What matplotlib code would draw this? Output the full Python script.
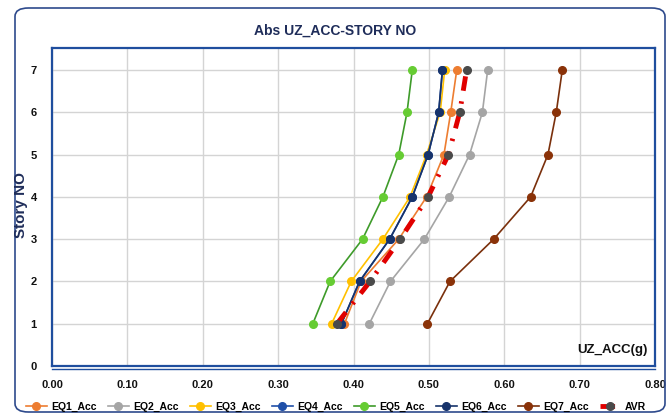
import matplotlib
matplotlib.use("Agg")
import matplotlib.pyplot as plt
from matplotlib.patches import FancyBboxPatch
from matplotlib.lines import Line2D

# --- DATA ---
stories = [1, 2, 3, 4, 5, 6, 7]
eq1 = [0.388, 0.410, 0.460, 0.497, 0.520, 0.529, 0.537]
eq2 = [0.421, 0.449, 0.494, 0.527, 0.554, 0.571, 0.578]
eq3 = [0.371, 0.397, 0.439, 0.475, 0.497, 0.515, 0.521]
eq4 = [0.384, 0.408, 0.448, 0.478, 0.499, 0.513, 0.518]
eq5 = [0.346, 0.369, 0.412, 0.439, 0.460, 0.471, 0.478]
eq6 = [0.384, 0.408, 0.448, 0.478, 0.499, 0.513, 0.518]
eq7 = [0.498, 0.528, 0.586, 0.635, 0.658, 0.669, 0.677]
avr = [0.378, 0.422, 0.462, 0.499, 0.526, 0.541, 0.550]

series_names = ["EQ1_Acc", "EQ2_Acc", "EQ3_Acc", "EQ4_Acc", "EQ5_Acc", "EQ6_Acc", "EQ7_Acc"]
x_ticks = [0.0, 0.1, 0.2, 0.3, 0.4, 0.5, 0.6, 0.7, 0.8]
y_ticks = [0, 1, 2, 3, 4, 5, 6, 7]

# line colour, marker colour
STYLES = [
    ("#ED7D31", "#ED7D31"),
    ("#A5A5A5", "#A5A5A5"),
    ("#FFC000", "#FFC000"),
    ("#1F4FA8", "#1F4FA8"),
    ("#3E9B2A", "#66CC33"),
    ("#17336B", "#17336B"),
    ("#7A300C", "#8A3208"),
]
NAVY = "#1F2D5A"
FRAME = "#1F4E9E"
FONT = "Liberation Sans"

plt.rcParams['font.family'] = FONT

fig = plt.figure(figsize=(6.72, 4.2), dpi=100)
ax = fig.add_axes([52 / 672, 1 - 366 / 420, (655 - 52) / 672, (366 - 48) / 420])

# outer rounded border
border = FancyBboxPatch((15 / 672, 8 / 420), 650 / 672, 404 / 420,
                        boxstyle="round,pad=0,rounding_size=0.02",
                        transform=fig.transFigure, facecolor="none",
                        edgecolor="#2E4A8C", linewidth=1.2)
fig.patches.append(border)

all_series = [eq1, eq2, eq3, eq4, eq5, eq6, eq7]
for vals, name, (lc, mc) in zip(all_series, series_names, STYLES):
    ax.plot(vals, stories, color=lc, linewidth=1.2, marker='o', markersize=5.5,
            markerfacecolor=mc, markeredgecolor=mc, label=name, zorder=3)

ax.plot(avr, stories, color="#E00000", linewidth=3.5, linestyle=(0, (3, 2.2, 0.5, 2.2)),
        marker='o', markersize=5.5, markerfacecolor="#4A4A4A", markeredgecolor="#4A4A4A",
        label="AVR", zorder=4)

ax.set_xlim(0, 0.8)
ax.set_ylim(0, 7.52)
ax.set_xticks(x_ticks)
ax.set_yticks(y_ticks)
ax.set_xticklabels([f"{v:.2f}" for v in x_ticks])
ax.set_yticklabels([str(v) for v in y_ticks])
ax.tick_params(axis='both', length=0, labelsize=8, labelcolor="#111111")
ax.tick_params(axis='x', pad=10)
ax.tick_params(axis='y', pad=11)
for lbl in ax.get_xticklabels() + ax.get_yticklabels():
    lbl.set_fontweight('bold')

ax.grid(True, color="#D4D4D4", linewidth=1.0)
ax.set_axisbelow(True)
for sp in ax.spines.values():
    sp.set_color(FRAME)
    sp.set_linewidth(1.6)
ax.add_line(Line2D([0, 1], [-0.008, -0.008], transform=ax.transAxes, color=FRAME,
                   linewidth=1.0, clip_on=False))

ax.text(0.79, 0.38, "UZ_ACC(g)", fontsize=9.5, fontweight='bold', color="#111111",
        ha='right', va='center')

fig.text(335 / 672, 1 - 31 / 420, "Abs UZ_ACC-STORY NO", fontsize=10, fontweight='bold',
         color=NAVY, ha='center', va='center')
fig.text(21 / 672, 1 - 205 / 420, "Story NO", fontsize=11, fontweight='bold',
         color=NAVY, ha='center', va='center', rotation=90)

fig.legend(loc='center', bbox_to_anchor=(0.5, 1 - 407 / 420), ncol=8, frameon=False,
           handlelength=2.0, columnspacing=1.1, handletextpad=0.4,
           prop={'weight': 'bold', 'size': 7.5, 'family': FONT})

fig.savefig("out.png", dpi=100)
